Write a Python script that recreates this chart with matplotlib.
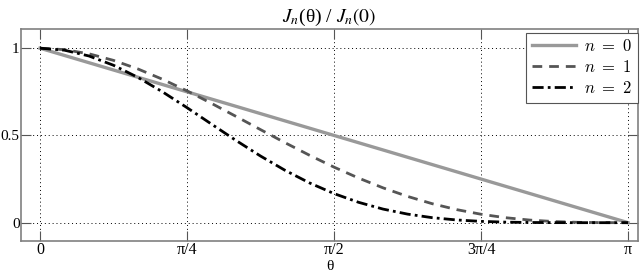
import numpy as np
import matplotlib
matplotlib.use("Agg")
import matplotlib.pyplot as plt
from matplotlib.font_manager import FontProperties

# theta in degrees (0 .. 180)
theta_deg = [0, 7.5, 15, 22.5, 30, 37.5, 45, 52.5, 60, 67.5, 75, 82.5, 90,
             97.5, 105, 112.5, 120, 127.5, 135, 142.5, 150, 157.5, 165, 172.5, 180]
j0 = [1.0, 0.9583, 0.9167, 0.875, 0.8333, 0.7917, 0.75, 0.7083, 0.6667, 0.625,
      0.5833, 0.5417, 0.5, 0.4583, 0.4167, 0.375, 0.3333, 0.2917, 0.25, 0.2083,
      0.1667, 0.125, 0.0833, 0.0417, 0.0]
j1 = [1.0, 0.9917, 0.9678, 0.9302, 0.8808, 0.8218, 0.7554, 0.6837, 0.6090, 0.5333,
      0.4584, 0.3863, 0.3183, 0.2558, 0.1996, 0.1506, 0.1090, 0.0750, 0.0483, 0.0285,
      0.0148, 0.0063, 0.0019, 0.0002, 0.0]
j2 = [1.0, 0.9886, 0.9553, 0.9021, 0.8323, 0.7498, 0.6592, 0.5648, 0.4712, 0.3819,
      0.3001, 0.2279, 0.1667, 0.1168, 0.0779, 0.0491, 0.0288, 0.0156, 0.0075, 0.0031,
      0.0011, 0.0003, 0.0, 0.0, 0.0]
labels = ["$n\\ =\\ 0$", "$n\\ =\\ 1$", "$n\\ =\\ 2$"]
xtick_labels = ["0", "\u03c0/4", "\u03c0/2", "3\u03c0/4", "\u03c0"]
ytick_labels = ["0", "0.5", "1"]

plt.rcParams['font.family'] = ['Liberation Serif', 'DejaVu Serif']
plt.rcParams['mathtext.fontset'] = 'stix'

th = np.deg2rad(theta_deg)

fig = plt.figure(figsize=(6.4, 2.74), dpi=100)
ax = fig.add_axes([21/640, 1 - 241/274, 617/640, 212/274])

ax.plot(th, j0, color='#999999', lw=2.4, ls='-', label=labels[0])
ax.plot(th, j1, color='#555555', lw=2.0, ls=(0, (3.5, 2.5)), label=labels[1])
ax.plot(th, j2, color='black', lw=2.0, ls=(0, (4, 1.5, 1, 1.5)), label=labels[2])

ax.set_xlim(-0.1015, np.pi + 0.053)
ax.set_ylim(-0.105, 1.11)
ax.set_xticks([0, np.pi/4, np.pi/2, 3*np.pi/4, np.pi])
ax.set_xticklabels(xtick_labels)
ax.set_yticks([0, 0.5, 1])
ax.set_yticklabels(ytick_labels)
ax.tick_params(direction='in', length=7, width=0.8, color='#555555',
               top=True, right=True)
ax.tick_params(axis='x', labelsize=11.5, pad=0.5)
ax.tick_params(axis='y', labelsize=11, pad=1)
ax.grid(True, color='black', ls=(0, (1, 3)), lw=0.7)
for s in ax.spines.values():
    s.set_color('#808080')
    s.set_linewidth(1.2)

ax.set_title("$J_n$(\u03b8) / $J_n(0)$", fontsize=14, pad=5)
fig.text(0.5 * (21 + 638) / 640, 1 / 274, "\u03b8", fontsize=11,
         ha='center', va='bottom')

leg_font = FontProperties(size=12, math_fontfamily='cm')
leg = ax.legend(loc='upper right', bbox_to_anchor=(1.0, 0.98), prop=leg_font,
                fancybox=False, framealpha=1, edgecolor='#555555',
                handlelength=2.6, handletextpad=0.5, borderpad=0.35,
                labelspacing=0.3, borderaxespad=0.0)
leg.get_frame().set_linewidth(0.8)

fig.savefig("out.png", dpi=100)
